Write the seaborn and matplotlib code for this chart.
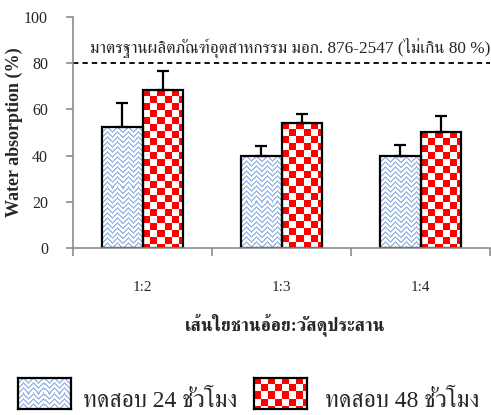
import numpy as np
import pandas as pd
import matplotlib
matplotlib.use("Agg")
import matplotlib.pyplot as plt
from matplotlib import font_manager
import seaborn as sns

# Data
ratios = ["1:2", "1:3", "1:4"]
tests = ["ทดสอบ 24 ชั่วโมง", "ทดสอบ 48 ชั่วโมง"]
absorb_24h = [52.4, 40.0, 39.7]
absorb_48h = [68.4, 54.2, 50.3]
err_24h = [10.4, 4.3, 4.9]
err_48h = [8.2, 3.7, 7.0]
standard_limit = 80
standard_text = "มาตรฐานผลิตภัณฑ์อุตสาหกรรม มอก. 876-2547 (ไม่เกิน 80 %)"
xlabel = "เส้นใยชานอ้อย:วัสดุประสาน"
ylabel = "Water absorption (%)"


def find_thai_font():
    # look for any installed font that can draw Thai
    try:
        from fontTools.ttLib import TTFont
    except ImportError:
        return None
    found = []
    for f in font_manager.fontManager.ttflist:
        try:
            tt = TTFont(f.fname, fontNumber=0, lazy=True)
            cmap = tt.getBestCmap() or {}
            if 0x0E17 in cmap and 0x0E2A in cmap:
                found.append(f.name)
        except Exception:
            continue
    if not found:
        return None
    serif = [n for n in found if "Serif" in n]
    return (serif or found)[0]


sns.set_theme(style="white")
thai = find_thai_font()
fam = ["Liberation Serif"] + ([thai] if thai else []) + ["DejaVu Sans"]
plt.rcParams["font.family"] = fam

df = pd.DataFrame({
    "ratio": ratios * 2,
    "test": [tests[0]] * 3 + [tests[1]] * 3,
    "value": absorb_24h + absorb_48h,
})

fig = plt.figure(figsize=(4.91, 4.15), dpi=100)
ax = fig.add_axes([73 / 491, 1 - 248 / 415, 417 / 491, 231 / 415])

sns.barplot(data=df, x="ratio", y="value", hue="test", hue_order=tests,
            order=ratios, width=0.58, gap=0, palette=["#8db3e2", "red"],
            edgecolor="black", linewidth=1.6, errorbar=None, legend=False, ax=ax)

ax.set_xlim(-0.5, 2.5)
ax.set_ylim(0, 100)


def texture(kind, w, h):
    j, i = np.meshgrid(np.arange(w), np.arange(h))
    img = np.ones((h, w, 3))
    if kind == "check":
        m = ((i // 7 + j // 7) % 2 == 0)
        img[m] = (1.0, 0.0, 0.0)
    else:
        block = (j // 5) % 2
        d = np.where(block == 0, i + j, i - j) % 5
        m = d < 2
        img[m] = (0.62, 0.74, 0.90)
    return img


bars = [p for p in ax.patches if p.get_height() > 0]
xs, tops, errs = [], [], []
allerr = err_24h + err_48h
for k, p in enumerate(bars):
    x0, w, h = p.get_x(), p.get_width(), p.get_height()
    (px0, py0), (px1, py1) = ax.transData.transform([(x0, 0), (x0 + w, h)])
    kind = "herring" if k < 3 else "check"
    img = texture(kind, max(int(round(px1 - px0)), 1), max(int(round(py1 - py0)), 1))
    im = ax.imshow(img, extent=(x0, x0 + w, 0, h), aspect="auto",
                   interpolation="nearest", zorder=p.get_zorder() - 0.1)
    im.set_clip_path(p)
    p.set_facecolor("none")
    xs.append(x0 + w / 2)
    tops.append(h)
    errs.append(allerr[k])

ax.errorbar(xs, tops, yerr=[np.zeros(len(errs)), errs], fmt="none",
            ecolor="black", elinewidth=1.6, capsize=4.3, capthick=1.6, zorder=5)

ax.set_xlim(-0.5, 2.5)
ax.set_ylim(0, 100)

ax.axhline(standard_limit, color="black", ls=(0, (3, 2.2)), lw=1.3, zorder=1)
ax.text(1, 86.6, standard_text, transform=ax.get_yaxis_transform(),
        fontsize=12.4, ha="right", va="center")

# axes styling
for s in ["top", "right"]:
    ax.spines[s].set_visible(False)
for s in ["left", "bottom"]:
    ax.spines[s].set_color("#8c8c8c")
    ax.spines[s].set_linewidth(1.2)

ax.set_yticks(range(0, 101, 20))
ax.tick_params(axis="y", direction="out", length=5, width=1.2, color="#8c8c8c",
               labelsize=11.5, pad=13, left=True)
ax.set_xticks([-0.5, 0.5, 1.5, 2.5])
ax.set_xticklabels([])
ax.set_xticks([0, 1, 2], minor=True)
ax.set_xticklabels(ratios, minor=True)
ax.tick_params(axis="x", which="major", direction="out", length=6, width=1.2,
               color="#8c8c8c", bottom=True)
ax.tick_params(axis="x", which="minor", length=0, labelsize=11, pad=24)
ax.set_xlabel("")
ax.set_ylabel(ylabel, fontsize=13, fontweight="bold", labelpad=1)

fig.text(285 / 491, 1 - 325 / 415, xlabel, fontsize=13, fontweight="bold",
         ha="center", va="center")

# legend: patterned swatches and labels
for sx, kind, label, tx in [(18, "herring", tests[0], 83), (254, "check", tests[1], 325)]:
    sw = fig.add_axes([sx / 491, 1 - 409 / 415, 53 / 491, 31 / 415])
    sw.imshow(texture(kind, 53, 31), aspect="auto", interpolation="nearest")
    sw.set_xticks([])
    sw.set_yticks([])
    for s in sw.spines.values():
        s.set_color("black")
        s.set_linewidth(1.6)
    fig.text(tx / 491, 1 - 401 / 415, label, fontsize=17, ha="left", va="center")

fig.savefig("out.png", dpi=100)
